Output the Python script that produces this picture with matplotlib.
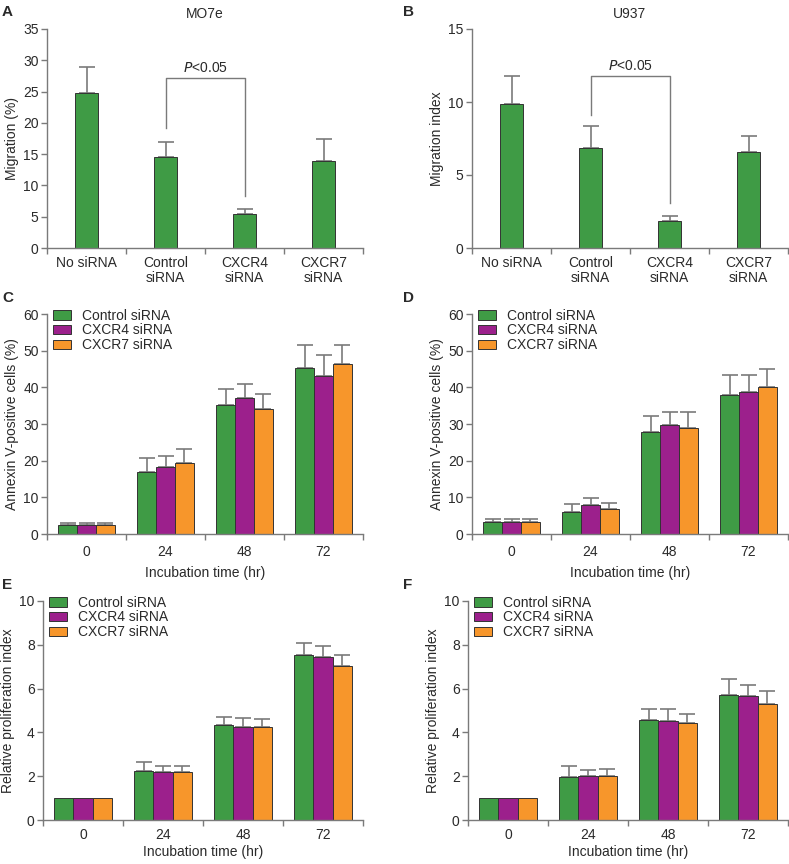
import numpy as np
import matplotlib
matplotlib.use("Agg")
import matplotlib.pyplot as plt
from matplotlib.patches import Patch

plt.rcParams['font.family'] = ['Liberation Sans', 'DejaVu Sans']
FS = 10

# ---------------- data ----------------
mig_categories = ["No siRNA", "Control\nsiRNA", "CXCR4\nsiRNA", "CXCR7\nsiRNA"]
mo7e_mean = [24.7, 14.6, 5.4, 13.9]
mo7e_err = [4.2, 2.4, 0.8, 3.5]
u937_mean = [9.85, 6.85, 1.85, 6.55]
u937_err = [1.9, 1.5, 0.35, 1.1]

times = ["0", "24", "48", "72"]
series = ["Control siRNA", "CXCR4 siRNA", "CXCR7 siRNA"]

c_ctrl = [2.4, 17.0, 35.2, 45.2]
c_ctrl_err = [0.7, 3.6, 4.3, 6.3]
c_cx4 = [2.4, 18.3, 37.0, 43.2]
c_cx4_err = [0.7, 2.9, 3.9, 5.6]
c_cx7 = [2.4, 19.4, 34.2, 46.3]
c_cx7_err = [0.7, 3.9, 3.9, 5.2]

d_ctrl = [3.2, 5.9, 27.9, 37.9]
d_ctrl_err = [1.0, 2.3, 4.2, 5.6]
d_cx4 = [3.2, 7.8, 29.7, 38.7]
d_cx4_err = [1.0, 2.0, 3.5, 4.7]
d_cx7 = [3.2, 6.7, 28.9, 40.0]
d_cx7_err = [1.0, 1.8, 4.3, 4.9]

e_ctrl = [1.0, 2.24, 4.33, 7.55]
e_ctrl_err = [0, 0.41, 0.37, 0.55]
e_cx4 = [1.0, 2.2, 4.23, 7.44]
e_cx4_err = [0, 0.28, 0.42, 0.50]
e_cx7 = [1.0, 2.2, 4.23, 7.02]
e_cx7_err = [0, 0.28, 0.36, 0.51]

f_ctrl = [1.0, 1.98, 4.55, 5.73]
f_ctrl_err = [0, 0.47, 0.53, 0.71]
f_cx4 = [1.0, 2.03, 4.52, 5.68]
f_cx4_err = [0, 0.24, 0.53, 0.49]
f_cx7 = [1.0, 2.0, 4.45, 5.29]
f_cx7_err = [0, 0.32, 0.40, 0.59]

GREEN = "#3f9b45"
PURPLE = "#9c208c"
ORANGE = "#f7962b"
GRAY = "#7a7a7a"
EDGE = "#333333"
TXT = "#2a2a2a"
colors = [GREEN, PURPLE, ORANGE]

W, H = 789, 864
fig = plt.figure(figsize=(W / 100, H / 100), dpi=100)


def ax_at(left, right, top, bottom):
    return fig.add_axes([left / W, 1 - bottom / H, (right - left) / W, (bottom - top) / H])


def style(ax, ymax, ystep, n=4, xpad=6):
    for s in ["top", "right"]:
        ax.spines[s].set_visible(False)
    for s in ["left", "bottom"]:
        ax.spines[s].set_color(GRAY)
        ax.spines[s].set_linewidth(1.0)
    ax.set_xlim(-0.5, n - 0.5)
    ax.set_ylim(0, ymax)
    ax.set_yticks(np.arange(0, ymax + 0.01, ystep))
    ax.set_xticks(range(n))
    ax.set_xticks(np.arange(-0.5, n, 1.0), minor=True)
    ax.tick_params(axis="x", which="major", length=0, labelsize=FS, pad=xpad, colors=TXT)
    ax.tick_params(axis="x", which="minor", length=4, color=GRAY, width=1.0)
    ax.tick_params(axis="y", length=4, color=GRAY, width=1.0, labelsize=FS, labelcolor=TXT, pad=2)


def err_up(ax, x, y, e):
    x = np.asarray(x, float); y = np.asarray(y, float); e = np.asarray(e, float)
    m = e > 0
    ax.errorbar(x[m], y[m], yerr=[np.zeros(m.sum()), e[m]], fmt="none",
                ecolor=GRAY, elinewidth=1.2, capsize=5.5, capthick=1.2, zorder=1)


def migration(ax, mean, err, ymax, ystep, ylabel, title, bracket):
    x = np.arange(len(mean))
    err_up(ax, x, mean, err)
    ax.bar(x, mean, width=0.30, color=GREEN, edgecolor=EDGE, linewidth=0.7, zorder=2)
    style(ax, ymax, ystep)
    ax.set_xticklabels(mig_categories, linespacing=1.05)
    ax.set_ylabel(ylabel, fontsize=FS, labelpad=3, color=TXT)
    ax.set_title(title, fontsize=FS, pad=8, color=TXT)
    lb, top, rb, ptxt = bracket
    ax.plot([1, 1, 2, 2], [lb, top, top, rb], color=GRAY, lw=1.0, zorder=1)
    ax.text(1.5, ptxt, r"$\it{P}$<0.05", ha="center", va="bottom", fontsize=FS, color=TXT)


def grouped(ax, data, errs, ymax, ystep, ylabel, xpad=8, lpad=5):
    x = np.arange(len(times))
    w = 0.24
    for i, (vals, ee) in enumerate(zip(data, errs)):
        xi = x + (i - 1) * w
        err_up(ax, xi, vals, ee)
        ax.bar(xi, vals, width=w, color=colors[i], edgecolor=EDGE, linewidth=0.7, zorder=2)
    style(ax, ymax, ystep, xpad=xpad)
    ax.set_xticklabels(times)
    ax.set_xlabel("Incubation time (hr)", fontsize=FS, labelpad=lpad, color=TXT)
    ax.set_ylabel(ylabel, fontsize=FS, labelpad=3, color=TXT)
    handles = [Patch(facecolor=c, edgecolor=EDGE, linewidth=0.7) for c in colors]
    leg = ax.legend(handles, series, loc="upper left", bbox_to_anchor=(0.0, 1.05), frameon=False,
                    fontsize=FS, handlelength=1.3, handleheight=0.7, handletextpad=0.8,
                    labelspacing=0.06, borderaxespad=0.2, borderpad=0.2)
    for t in leg.get_texts():
        t.set_color(TXT)


# A
axA = ax_at(47, 363, 29, 248)
migration(axA, mo7e_mean, mo7e_err, 35, 5, "Migration (%)", "MO7e", (19.2, 27.2, 8.3, 27.7))
# B
axB = ax_at(472, 788, 29, 248)
migration(axB, u937_mean, u937_err, 15, 5, "Migration index", "U937", (9.1, 11.8, 3.1, 12.0))
# C
axC = ax_at(47, 363, 314, 534)
grouped(axC, [c_ctrl, c_cx4, c_cx7], [c_ctrl_err, c_cx4_err, c_cx7_err], 60, 10,
        "Annexin V-positive cells (%)")
# D
axD = ax_at(472, 788, 314, 534)
grouped(axD, [d_ctrl, d_cx4, d_cx7], [d_ctrl_err, d_cx4_err, d_cx7_err], 60, 10,
        "Annexin V-positive cells (%)")
# E
axE = ax_at(43, 363, 601, 820)
grouped(axE, [e_ctrl, e_cx4, e_cx7], [e_ctrl_err, e_cx4_err, e_cx7_err], 10, 2,
        "Relative proliferation index", xpad=6, lpad=2)
# F
axF = ax_at(468, 788, 601, 820)
grouped(axF, [f_ctrl, f_cx4, f_cx7], [f_ctrl_err, f_cx4_err, f_cx7_err], 10, 2,
        "Relative proliferation index", xpad=6, lpad=2)

for lab, px, py in [("A", 2, 12), ("B", 403, 12), ("C", 2, 298), ("D", 403, 298),
                    ("E", 2, 585), ("F", 403, 585)]:
    fig.text(px / W, 1 - py / H, lab, fontsize=11, fontweight="bold", ha="left", va="center",
             color=TXT)

fig.savefig("out.png", dpi=100)
